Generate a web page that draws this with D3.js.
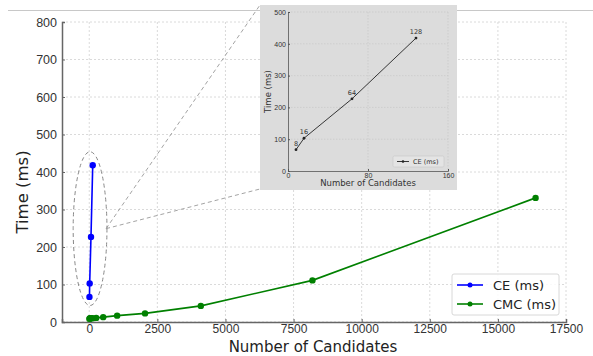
<!DOCTYPE html>
<html>
<head>
<meta charset="utf-8">
<script src="https://cdn.jsdelivr.net/npm/d3@7"></script>
<style>
  body { margin: 0; background: #fff; }
  svg { font-family: "DejaVu Sans", sans-serif; }
</style>
</head>
<body>
<svg id="chart" width="593" height="356"></svg>
<script>
// data
const ceN = [8, 16, 64, 128]
const ceTime = [67, 103, 227, 418]
const cmcN = [8, 16, 32, 64, 128, 256, 512, 1024, 2048, 4096, 8192, 16384]
const cmcTime = [9, 9, 10, 10, 10, 11, 13, 17, 23, 43, 111, 331]
const xTicks = [0, 2500, 5000, 7500, 10000, 12500, 15000, 17500]
const yTicks = [0, 100, 200, 300, 400, 500, 600, 700, 800]
const insetXTicks = [0, 80, 160]
const insetYTicks = [0, 100, 200, 300, 400, 500]
const seriesNames = ["CE (ms)", "CMC (ms)"]
const seriesColors = ["#0000ff", "#008000"]

const svg = d3.select("#chart")

// thin rule at top of the figure
svg.append("line")
  .attr("x1", 8).attr("x2", 593).attr("y1", 10.5).attr("y2", 10.5)
  .attr("stroke", "#c8c8c8").attr("stroke-width", 1)

const margin = {top: 22, left: 62, right: 27, bottom: 34}
const width = 593 - margin.left - margin.right
const height = 356 - margin.top - margin.bottom

const g = svg.append("g").attr("transform", `translate(${margin.left},${margin.top})`)

const x = d3.scaleLinear().domain([-1000, 17500]).range([0, width])
const y = d3.scaleLinear().domain([0, 800]).range([height, 0])

// grid
g.append("g").selectAll("line").data(xTicks).join("line")
  .attr("x1", d => x(d)).attr("x2", d => x(d)).attr("y1", 0).attr("y2", height)
  .attr("stroke", "#d0d0d0").attr("stroke-dasharray", "2,2").attr("stroke-width", 0.8)
g.append("g").selectAll("line").data(yTicks).join("line")
  .attr("x1", 0).attr("x2", width).attr("y1", d => y(d)).attr("y2", d => y(d))
  .attr("stroke", "#d0d0d0").attr("stroke-dasharray", "2,2").attr("stroke-width", 0.8)

// axes
const xAxis = g.append("g").attr("transform", `translate(0,${height})`)
  .call(d3.axisBottom(x).tickValues(xTicks).tickSize(-3).tickPadding(2).tickFormat(d3.format("d")))
const yAxis = g.append("g")
  .call(d3.axisLeft(y).tickValues(yTicks).tickSize(-3).tickPadding(5).tickFormat(d3.format("d")))
for (const ax of [xAxis, yAxis]) {
  ax.select(".domain").attr("stroke", "#666").attr("stroke-width", 1.5)
  ax.selectAll(".tick line").attr("stroke", "#666")
  ax.selectAll(".tick text").attr("fill", "#333").style("font-size", "12.5px")
}
xAxis.selectAll(".tick text").style("font-size", "12px")

svg.append("text")
  .attr("x", 313).attr("y", 352.4)
  .attr("text-anchor", "middle").attr("fill", "#222").style("font-size", "15px")
  .text("Number of Candidates")
svg.append("text")
  .attr("transform", `translate(28,${margin.top + height / 2 + 20}) rotate(-90)`)
  .attr("text-anchor", "middle").attr("fill", "#222").style("font-size", "16.5px")
  .text("Time (ms)")

// ellipse highlighting the CE points + connector lines to inset
const ellCx = 30, ellCy = 249
g.append("ellipse")
  .attr("cx", x(ellCx)).attr("cy", y(ellCy))
  .attr("rx", x(620) - x(0)).attr("ry", y(0) - y(205))
  .attr("fill", "none").attr("stroke", "#888").attr("stroke-dasharray", "4,3").attr("stroke-width", 1)

// series
const ceData = ceN.map((n, i) => ({n, t: ceTime[i]}))
const cmcData = cmcN.map((n, i) => ({n, t: cmcTime[i]}))
const line = d3.line().x(d => x(d.n)).y(d => y(d.t))

;[cmcData, ceData].forEach((data, k) => {
  const col = k === 0 ? seriesColors[1] : seriesColors[0]
  g.append("path").datum(data).attr("d", line)
    .attr("fill", "none").attr("stroke", col).attr("stroke-width", 1.6)
  g.append("g").selectAll("circle").data(data).join("circle")
    .attr("cx", d => x(d.n)).attr("cy", d => y(d.t)).attr("r", 3.2).attr("fill", col)
})

// legend
const lg = g.append("g").attr("transform", `translate(${452 - margin.left},${274 - margin.top})`)
lg.append("rect").attr("width", 107).attr("height", 41).attr("rx", 2)
  .attr("fill", "#fff").attr("fill-opacity", 0.85).attr("stroke", "#d8d8d8")
seriesNames.forEach((name, i) => {
  const ly = 11 + i * 19
  lg.append("line").attr("x1", 5).attr("x2", 31).attr("y1", ly).attr("y2", ly)
    .attr("stroke", seriesColors[i]).attr("stroke-width", 1.6)
  lg.append("circle").attr("cx", 18).attr("cy", ly).attr("r", 2.5).attr("fill", seriesColors[i])
  lg.append("text").attr("x", 41).attr("y", ly + 4.5).attr("fill", "#222")
    .style("font-size", "13px").text(name)
})

// connectors
const joinX = x(620) + margin.left, joinY = y(ellCy) + margin.top
svg.append("line").attr("x1", joinX).attr("y1", joinY).attr("x2", 260).attr("y2", 5)
  .attr("stroke", "#999").attr("stroke-dasharray", "4,3").attr("stroke-width", 0.9)
svg.append("line").attr("x1", joinX).attr("y1", joinY).attr("x2", 260).attr("y2", 189)
  .attr("stroke", "#999").attr("stroke-dasharray", "4,3").attr("stroke-width", 0.9)

// inset
svg.append("rect").attr("x", 260).attr("y", 5).attr("width", 197).attr("height", 185)
  .attr("fill", "#dcdcdc")

const ig = svg.append("g").attr("transform", "translate(288,12)")
const iw = 160, ih = 159
const ix = d3.scaleLinear().domain([0, 160]).range([0, iw])
const iy = d3.scaleLinear().domain([0, 500]).range([ih, 0])

ig.append("g").selectAll("line").data(insetXTicks.slice(1)).join("line")
  .attr("x1", d => ix(d)).attr("x2", d => ix(d)).attr("y1", 0).attr("y2", ih)
  .attr("stroke", "#c4c4c4").attr("stroke-dasharray", "1.5,1.5").attr("stroke-width", 0.6)
ig.append("g").selectAll("line").data(insetYTicks.slice(1)).join("line")
  .attr("x1", 0).attr("x2", iw).attr("y1", d => iy(d)).attr("y2", d => iy(d))
  .attr("stroke", "#c4c4c4").attr("stroke-dasharray", "1.5,1.5").attr("stroke-width", 0.6)

const ixAxis = ig.append("g").attr("transform", `translate(0,${ih})`)
  .call(d3.axisBottom(ix).tickValues(insetXTicks).tickSize(-2).tickPadding(2))
const iyAxis = ig.append("g")
  .call(d3.axisLeft(iy).tickValues(insetYTicks).tickSize(-2).tickPadding(2))
for (const ax of [ixAxis, iyAxis]) {
  ax.select(".domain").attr("stroke", "#555").attr("stroke-width", 0.8)
  ax.selectAll(".tick line").attr("stroke", "#555")
  ax.selectAll(".tick text").attr("fill", "#333").style("font-size", "7px")
}

svg.append("text").attr("x", 368).attr("y", 186).attr("text-anchor", "middle")
  .attr("fill", "#333").style("font-size", "8.5px").text("Number of Candidates")
svg.append("text").attr("transform", "translate(271,91.5) rotate(-90)").attr("text-anchor", "middle")
  .attr("fill", "#333").style("font-size", "8.5px").text("Time (ms)")

const iline = d3.line().x(d => ix(d.n)).y(d => iy(d.t))
ig.append("path").datum(ceData).attr("d", iline)
  .attr("fill", "none").attr("stroke", "#222").attr("stroke-width", 0.9)
ig.append("g").selectAll("circle").data(ceData).join("circle")
  .attr("cx", d => ix(d.n)).attr("cy", d => iy(d.t)).attr("r", 1.4).attr("fill", "#222")
ig.append("g").selectAll("text").data(ceData).join("text")
  .attr("x", d => ix(d.n)).attr("y", d => iy(d.t) - 4)
  .attr("text-anchor", "middle").attr("fill", "#333").style("font-size", "6.5px")
  .text(d => d.n)

const il = svg.append("g").attr("transform", "translate(393,156)")
il.append("rect").attr("width", 51).attr("height", 11).attr("rx", 1.5)
  .attr("fill", "#e4e4e4").attr("stroke", "#c8c8c8").attr("stroke-width", 0.6)
il.append("line").attr("x1", 4).attr("x2", 16).attr("y1", 5.5).attr("y2", 5.5)
  .attr("stroke", "#222").attr("stroke-width", 0.9)
il.append("circle").attr("cx", 10).attr("cy", 5.5).attr("r", 1.3).attr("fill", "#222")
il.append("text").attr("x", 20).attr("y", 8).attr("fill", "#333")
  .style("font-size", "6.5px").text("CE (ms)")
</script>
</body>
</html>
